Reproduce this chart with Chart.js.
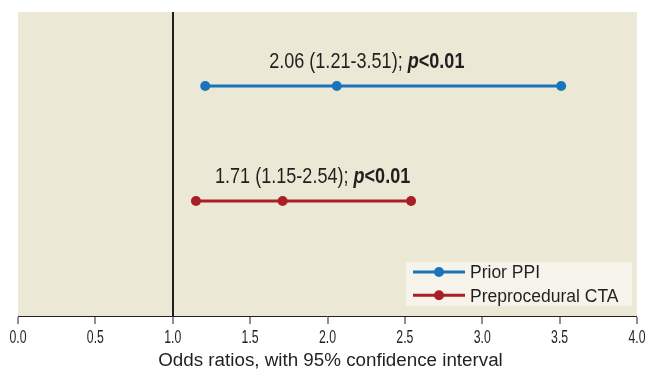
<!DOCTYPE html>
<html>
<head>
<meta charset="utf-8">
<script src="https://cdn.jsdelivr.net/npm/chart.js@4/dist/chart.umd.min.js"></script>
<style>
  html, body { margin: 0; padding: 0; background: #ffffff; }
  #wrap { width: 646px; height: 369px; position: relative; }
</style>
</head>
<body>
<div id="wrap"><canvas id="c" width="646" height="369"></canvas></div>
<script>
// Odds ratios with 95% confidence intervals
const seriesNames = ['Prior PPI', 'Preprocedural CTA'];
const oddsRatios  = [2.06, 1.71];
const lowerCI     = [1.21, 1.15];
const upperCI     = [3.51, 2.54];
const pValueText  = ['<0.01', '<0.01'];
const rowPosition = [3, 1.5];
const xTickValues = [0, 0.5, 1, 1.5, 2, 2.5, 3, 3.5, 4];
const referenceLine = 1;
const axisTitle = 'Odds ratios, with 95% confidence interval';

const colors = ['#1a74bb', '#a91f26'];
const ink = '#231f20';
const sans = '"Liberation Sans", Arial, sans-serif';

const datasets = seriesNames.map((name, i) => ({
  label: name,
  data: [
    { x: lowerCI[i], y: rowPosition[i] },
    { x: oddsRatios[i], y: rowPosition[i] },
    { x: upperCI[i], y: rowPosition[i] }
  ],
  showLine: true,
  borderColor: colors[i],
  backgroundColor: colors[i],
  borderWidth: 3,
  pointRadius: 5,
  pointHoverRadius: 5,
  pointBorderWidth: 0
}));

// Draw text squeezed horizontally to get a condensed face
function condensedText(ctx, text, x, y, squeeze, align) {
  ctx.save();
  ctx.translate(x, y);
  ctx.scale(squeeze, 1);
  ctx.textAlign = align || 'left';
  ctx.fillText(text, 0, 0);
  ctx.restore();
}

// Tan plot background
const areaFill = {
  id: 'areaFill',
  beforeDraw(chart) {
    const { ctx, chartArea: a } = chart;
    ctx.save();
    ctx.fillStyle = '#ebe8d5';
    ctx.fillRect(a.left, a.top, a.right - a.left, a.bottom - a.top);
    ctx.restore();
  }
};

// Condensed tick labels and the axis title
const axisText = {
  id: 'axisText',
  afterDraw(chart) {
    const { ctx, chartArea: a } = chart;
    const xs = chart.scales.x;
    ctx.save();
    ctx.fillStyle = ink;
    ctx.textBaseline = 'alphabetic';
    ctx.font = `17.5px ${sans}`;
    xs.ticks.forEach(t => {
      condensedText(ctx, Number(t.value).toFixed(1), xs.getPixelForValue(t.value), a.bottom + 27, 0.7, 'center');
    });
    ctx.font = `18.8px ${sans}`;
    ctx.textAlign = 'center';
    ctx.fillText(axisTitle, (a.left + a.right) / 2 + 3, a.bottom + 50);
    ctx.restore();
  }
};

// Estimate text above each interval
const estimateLabels = {
  id: 'estimateLabels',
  afterDatasetsDraw(chart) {
    const { ctx } = chart;
    const xs = chart.scales.x, ys = chart.scales.y;
    const squeeze = 0.84;
    ctx.save();
    ctx.textBaseline = 'alphabetic';
    ctx.fillStyle = ink;
    seriesNames.forEach((_, i) => {
      const f = v => v.toFixed(2);
      const parts = [
        { t: `${f(oddsRatios[i])} (${f(lowerCI[i])}-${f(upperCI[i])}); `, font: `21.5px ${sans}` },
        { t: 'p', font: `italic bold 21.5px ${sans}` },
        { t: pValueText[i], font: `bold 21.5px ${sans}` }
      ];
      let total = 0;
      parts.forEach(p => { ctx.font = p.font; p.w = ctx.measureText(p.t).width * squeeze; total += p.w; });
      const cx = xs.getPixelForValue(oddsRatios[i]) + 30;
      const baseY = ys.getPixelForValue(rowPosition[i]) - 18;
      let x = cx - total / 2;
      parts.forEach(p => { ctx.font = p.font; condensedText(ctx, p.t, x, baseY, squeeze); x += p.w; });
    });
    ctx.restore();
  }
};

// Legend box in the lower right corner of the plot
const boxLegend = {
  id: 'boxLegend',
  afterDraw(chart) {
    const { ctx, chartArea: a } = chart;
    const w = 226, h = 44;
    const bx = a.right - 5 - w, by = a.bottom - 10 - h;
    ctx.save();
    ctx.fillStyle = '#f5f3ea';
    ctx.fillRect(bx, by, w, h);
    ctx.font = `17.5px ${sans}`;
    ctx.textBaseline = 'alphabetic';
    chart.data.datasets.forEach((ds, i) => {
      const y = by + 10 + i * 23.3;
      ctx.strokeStyle = ds.borderColor;
      ctx.lineWidth = 3;
      ctx.beginPath();
      ctx.moveTo(bx + 7, y);
      ctx.lineTo(bx + 59, y);
      ctx.stroke();
      ctx.fillStyle = ds.borderColor;
      ctx.beginPath();
      ctx.arc(bx + 33, y, 5, 0, Math.PI * 2);
      ctx.fill();
      ctx.fillStyle = ink;
      ctx.textAlign = 'left';
      ctx.fillText(ds.label, bx + 64, y + 6.3);
    });
    ctx.restore();
  }
};

new Chart(document.getElementById('c'), {
  type: 'scatter',
  data: { datasets },
  options: {
    responsive: false,
    animation: false,
    layout: { padding: { left: 18, right: 9, top: 12, bottom: 45 } },
    plugins: { legend: { display: false }, tooltip: { enabled: false } },
    scales: {
      x: {
        type: 'linear',
        min: 0,
        max: 4,
        afterBuildTicks(scale) { scale.ticks = xTickValues.map(v => ({ value: v })); },
        ticks: { display: false },
        grid: {
          drawOnChartArea: true,
          drawTicks: true,
          color: ctx => (ctx.tick && ctx.tick.value === referenceLine) ? ink : 'rgba(0,0,0,0)',
          lineWidth: ctx => (ctx.tick && ctx.tick.value === referenceLine) ? 2 : 0,
          tickColor: ink,
          tickLength: 8,
          tickWidth: 1
        },
        border: { display: true, color: ink, width: 1 },
        title: { display: false }
      },
      y: {
        display: false,
        min: 0,
        max: 3.965
      }
    }
  },
  plugins: [areaFill, estimateLabels, axisText, boxLegend]
});
</script>
</body>
</html>
